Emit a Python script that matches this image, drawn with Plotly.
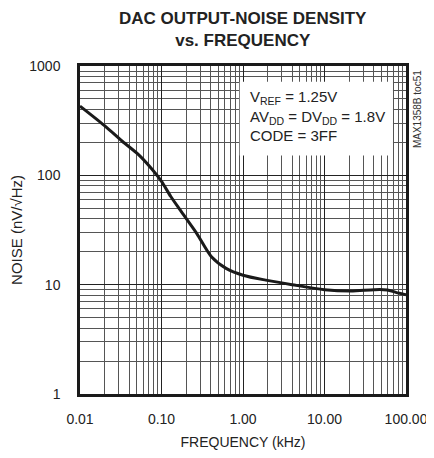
import plotly.graph_objects as go

freq_khz = [0.01, 0.02, 0.033, 0.053, 0.077, 0.1, 0.13, 0.17, 0.27, 0.41, 0.62, 1.0, 1.9, 4.0, 10, 21, 41, 59, 75, 100]
noise = [430, 285, 205, 153, 113, 88, 64, 48, 29.5, 18, 14.1, 12.2, 11.0, 10.0, 9.0, 8.75, 9.0, 8.95, 8.5, 8.1]

x_major = [0.01, 0.1, 1, 10, 100]
x_labels = ["0.01", "0.10", "1.00", "10.00", "100.00"]
y_major = [1, 10, 100, 1000]
y_labels = ["1", "10", "100", "1000"]

x_minor = [m * d for d in [0.01, 0.1, 1, 10] for m in range(2, 10)]
y_minor = [m * d for d in [1, 10, 100] for m in range(2, 10)]

FONT = "Liberation Sans, Arial, sans-serif"
TXT = "#222"

fig = go.Figure()
fig.add_trace(go.Scatter(x=freq_khz, y=noise, mode="lines",
                         line=dict(color="#1a1a1a", width=3, shape="spline", smoothing=0.8),
                         showlegend=False, hoverinfo="skip"))

axis_common = dict(
    type="log", showline=True, linecolor="#1a1a1a", linewidth=2.5, mirror=True,
    showgrid=True, gridcolor="#222222", gridwidth=1, ticks="", zeroline=False,
    automargin=False,
)

fig.update_xaxes(**axis_common, range=[-2, 2], tickmode="array", tickvals=x_major, ticktext=x_labels,
                 ticklabelstandoff=10, tickfont=dict(family=FONT, size=14, color=TXT),
                 minor=dict(tickmode="array", tickvals=x_minor, showgrid=True, gridcolor="#555555", gridwidth=1, ticks=""),
                 title=dict(text="FREQUENCY (kHz)", font=dict(family=FONT, size=14, color=TXT), standoff=12))
fig.update_yaxes(**axis_common, range=[0, 3], tickmode="array", tickvals=y_major, ticktext=y_labels,
                 ticklabelstandoff=14, tickfont=dict(family=FONT, size=14, color=TXT),
                 minor=dict(tickmode="array", tickvals=y_minor, showgrid=True, gridcolor="#555555", gridwidth=1, ticks=""),
                 title=dict(text="NOISE (nV/√Hz)", font=dict(family=FONT, size=15, color=TXT), standoff=8))

fig.add_shape(type="rect", xref="paper", yref="paper", x0=0.49, x1=0.96, y0=0.727, y1=0.952,
              fillcolor="white", line=dict(width=0), layer="above")

fig.add_annotation(xref="paper", yref="paper", x=0.515, y=0.94, xanchor="left", yanchor="top",
                   align="left", showarrow=False,
                   text="V<sub>REF</sub> = 1.25V<br>AV<sub>DD</sub> = DV<sub>DD</sub> = 1.8V<br>CODE = 3FF",
                   font=dict(family=FONT, size=15, color=TXT))

fig.add_annotation(xref="paper", yref="paper", x=1.035, y=0.87, xanchor="center", yanchor="middle",
                   textangle=-90, showarrow=False, text="MAX1358B toc51",
                   font=dict(family=FONT, size=10, color="#333"))

fig.add_annotation(xref="paper", yref="paper", x=0.5, y=1.11, xanchor="center", yanchor="middle",
                   showarrow=False, text="<b>DAC OUTPUT-NOISE DENSITY<br>vs. FREQUENCY</b>",
                   font=dict(family=FONT, size=17, color=TXT))

fig.update_layout(
    width=426, height=442,
    margin=dict(l=72, r=28, t=58, b=56, autoexpand=False),
    paper_bgcolor="white", plot_bgcolor="white",
)

fig.write_html("out.html")
